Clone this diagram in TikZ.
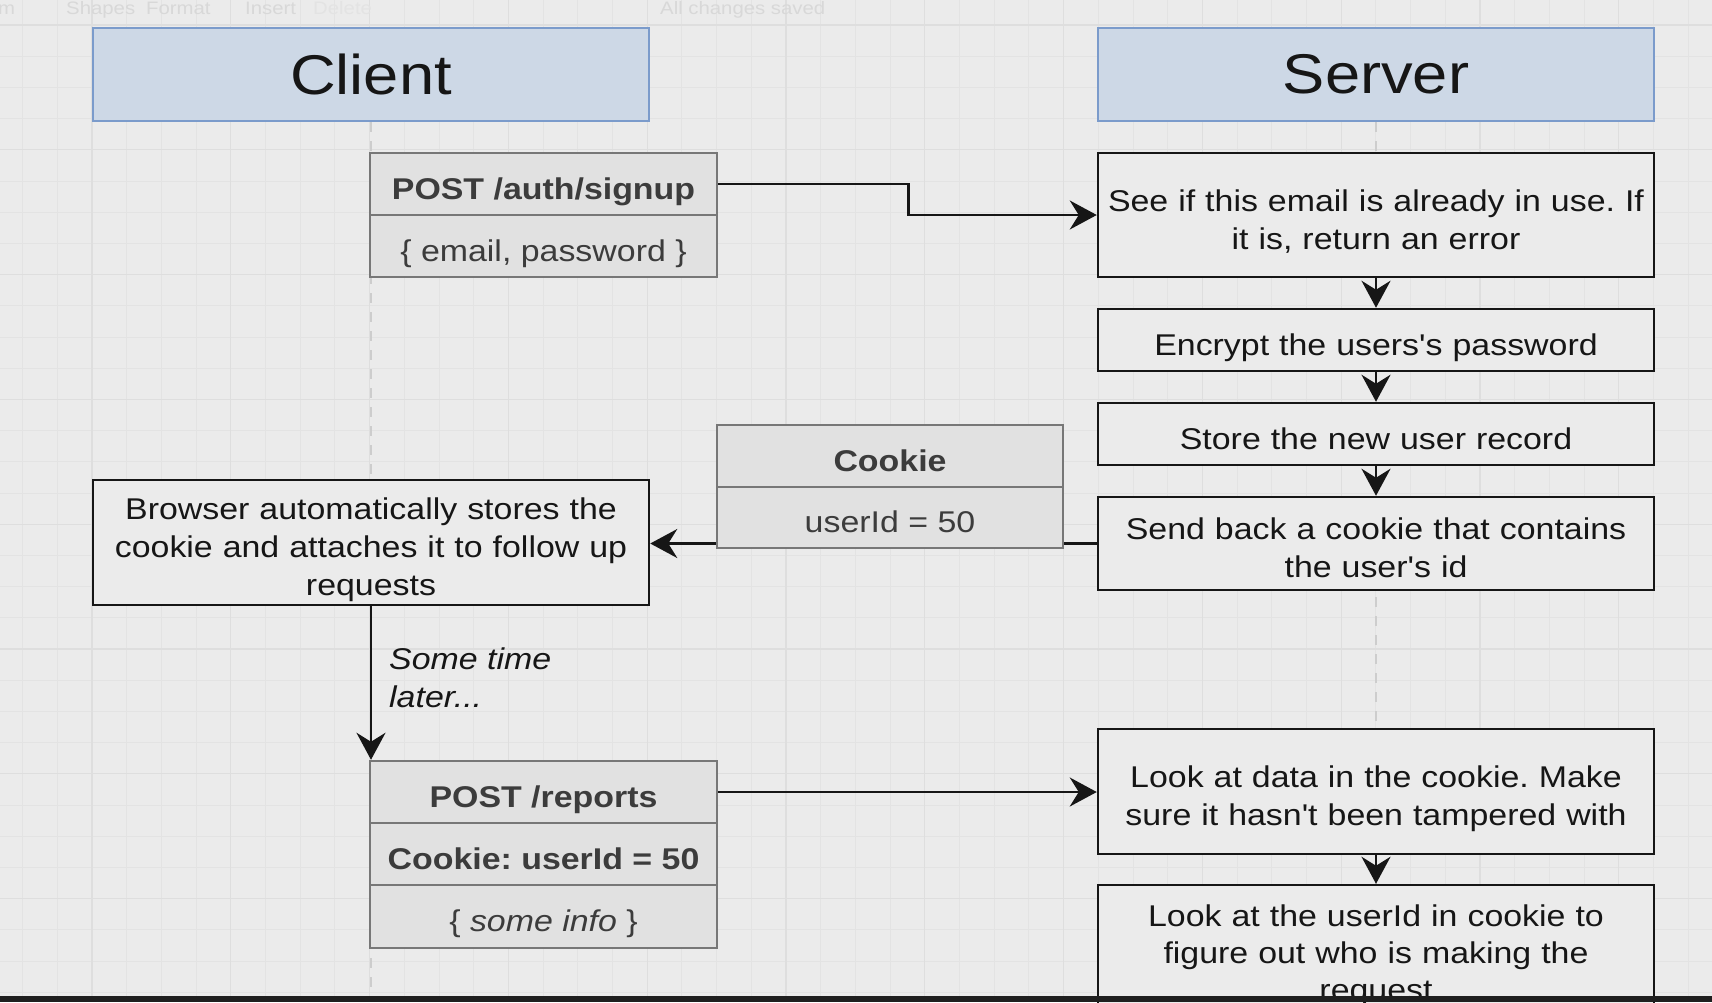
\documentclass[tikz,border=0pt]{standalone}
\usepackage{fontspec}
\setmainfont{Liberation Sans}[FakeStretch=1.13, Ligatures=TeXOff]
\usetikzlibrary{arrows.meta, calc}
\frenchspacing

\definecolor{canvas}{HTML}{EBEBEB}
\definecolor{gridminor}{HTML}{E3E3E3}
\definecolor{gridmajor}{HTML}{DEDEDE}
\definecolor{lifeline}{HTML}{CDCDCD}
\definecolor{headfill}{HTML}{CDD8E6}
\definecolor{headline}{HTML}{7B9BCB}
\definecolor{grayfill}{HTML}{E1E1E1}
\definecolor{grayline}{HTML}{777777}
\definecolor{graytext}{HTML}{3C3C3C}
\definecolor{ink}{HTML}{161616}
\definecolor{toolbar}{HTML}{D8D8D8}

\begin{document}
\begin{tikzpicture}[x=1pt,y=-1pt,
  head/.style={draw=headline, line width=2.5pt, fill=headfill, text=ink,
    minimum width=556pt, minimum height=93pt, inner sep=0pt,
    font=\fontsize{56}{60}\selectfont},
  textstrut/.style={execute at begin node={\rule{0pt}{38pt}},
    execute at end node={\rule[-8pt]{0pt}{8pt}}},
  stepbox/.style={draw=ink, line width=2.5pt, fill=canvas, text=ink,
    minimum width=556pt, text width=556pt, align=center, inner sep=0pt, textstrut,
    font=\fontsize{30}{38}\selectfont},
  rowbox/.style={draw=grayline, line width=2.5pt, fill=grayfill, text=graytext,
    minimum width=347pt, minimum height=62pt, inner sep=0pt, textstrut,
    font=\fontsize{30}{38}\selectfont},
  msg/.style={ink, line width=2.5pt, -{Stealth[length=27pt,width=29pt,inset=9pt]}},
  tool/.style={text=toolbar, inner sep=0pt, anchor=base west, font=\fontsize{18}{20}\selectfont}]

\clip (0,0) rectangle (1712,1002);
\fill[canvas] (0,0) rectangle (1712,1002);

% grid
\foreach \gx in {0,...,49} {
  \draw[gridminor, line width=1pt] ({22.6+34.7*\gx},0) -- ({22.6+34.7*\gx},1002);
}
\foreach \gy in {0,...,32} {
  \draw[gridminor, line width=1pt] (0,{25+31.2*\gy}) -- (1712,{25+31.2*\gy});
}
\foreach \gx in {0,...,12} {
  \draw[gridmajor, line width=1.2pt] ({92+138.8*\gx},0) -- ({92+138.8*\gx},1002);
}
\foreach \gy in {0,...,8} {
  \draw[gridmajor, line width=1.2pt] (0,{25+124.8*\gy}) -- (1712,{25+124.8*\gy});
}

% toolbar
\node[tool] (tbm) at (-2,14) {m};
\node[tool] (tbshapes) at (66,14) {Shapes};
\node[tool] (tbformat) at (146,14) {Format};
\node[tool] (tbinsert) at (245,14) {Insert};
\node[tool, text=gridminor] (tbdelete) at (313,14) {Delete};
\node[tool] (tbsaved) at (660,14) {All changes saved};

% lanes
\node[head] (client) at (371,74.5) {Client};
\node[head] (server) at (1376,74.5) {Server};
\draw[lifeline, line width=2pt, dash pattern=on 10pt off 9pt] (client.south) -- (371,1002);
\draw[lifeline, line width=2pt, dash pattern=on 10pt off 9pt] (server.south) -- (1376,1002);

% signup
\node[rowbox, font=\fontsize{30}{38}\selectfont\bfseries] (signup) at (543.5,184) {POST /auth/signup};
\node[rowbox] (signupbody) at (543.5,246) {\{ email, password \}};

\node[stepbox, minimum height=124pt] (check) at (1376,215) {See if this email is already in use. If\\it is, return an error};
\node[stepbox, minimum height=62pt] (encrypt) at (1376,340) {Encrypt the users's password};
\node[stepbox, minimum height=62pt] (store) at (1376,434) {Store the new user record};
\node[stepbox, minimum height=93pt] (sendback) at (1376,543.5) {Send back a cookie that contains\\the user's id};

\node[stepbox, minimum height=125pt] (browser) at (371,542.5) {Browser automatically stores the\\cookie and attaches it to follow up\\requests};

\draw[msg] (signup.east) -- ++(190,0) |- (check.west);
\draw[msg] (check.south) -- (encrypt.north);
\draw[msg] (encrypt.south) -- (store.north);
\draw[msg] (store.south) -- (sendback.north);
\draw[msg] (sendback.west) -- (sendback.west -| browser.east);

% cookie
\node[rowbox, minimum width=346pt, font=\fontsize{30}{38}\selectfont\bfseries] (cookie) at (890,456) {Cookie};
\node[rowbox, minimum width=346pt, minimum height=61pt] (cookiebody) at (890,517.5) {userId = 50};

% later request
\node[rowbox, font=\fontsize{30}{38}\selectfont\bfseries] (reports) at (543.5,792) {POST /reports};
\node[rowbox, font=\fontsize{30}{38}\selectfont\bfseries] (reportscookie) at (543.5,854) {Cookie: userId = 50};
\node[rowbox, minimum height=63pt] (reportsinfo) at (543.5,916.5) {\{ \textit{some info} \}};
\draw[msg] (browser.south) -- (browser.south |- reports.north);
\node[text=ink, anchor=west, align=left, inner sep=0pt, font=\fontsize{30}{38}\selectfont\itshape] (later) at (389,678) {Some time\\later...};

\node[stepbox, minimum height=125pt] (lookdata) at (1376,791.5) {Look at data in the cookie. Make\\sure it hasn't been tampered with};
\node[stepbox, minimum height=126pt, font=\fontsize{30}{37}\selectfont] (lookid) at (1376,948) {Look at the userId in cookie to\\figure out who is making the\\request};
\draw[msg] (reports.east) -- (reports.east -| lookdata.west);
\draw[msg] (lookdata.south) -- (lookid.north);

% screen edge
\fill[black!88] (0,996) rectangle (1712,1002);
\end{tikzpicture}
\end{document}
